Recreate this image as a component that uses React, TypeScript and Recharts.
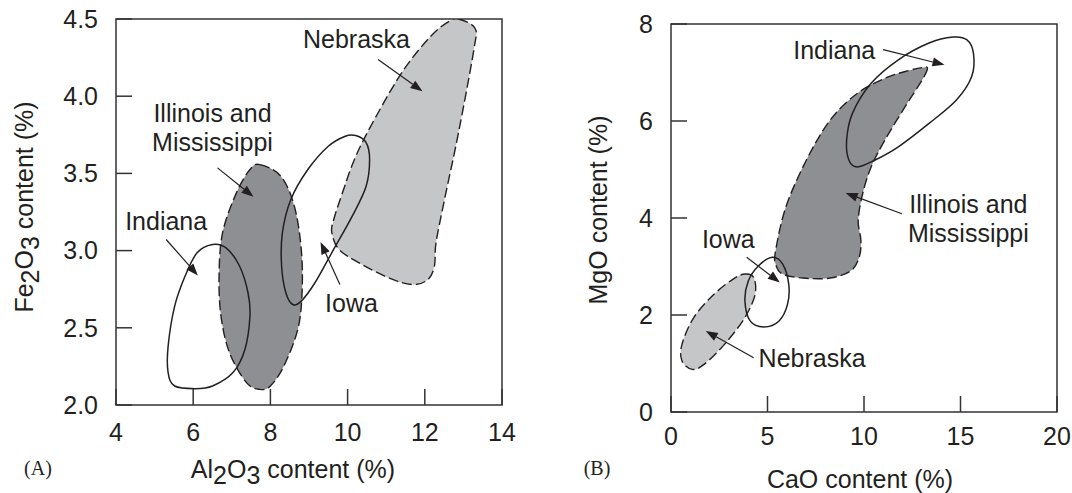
import React from "react";
import { ScatterChart, Scatter, XAxis, YAxis, ReferenceArea } from "recharts";

type Pt = { x: number; y: number };
type Lbl = { x: number; y: number; text: string };

const INK = "#231f20";
const DARK_FILL = "#8e8f92";
const LIGHT_FILL = "#c5c6c8";
const FONT = "'Liberation Sans', Arial, Helvetica, sans-serif";

// ---- (A) Al2O3 vs Fe2O3 ----
const aXTicks = [4, 6, 8, 10, 12, 14];
const aYTicks = [2.0, 2.5, 3.0, 3.5, 4.0, 4.5];

const aNebraska: Pt[] = [
  { x: 12.87, y: 4.5 }, { x: 13.3, y: 4.44 }, { x: 13.27, y: 4.3 }, { x: 12.87, y: 3.76 },
  { x: 12.51, y: 3.33 }, { x: 12.29, y: 3.05 }, { x: 12.25, y: 2.9 }, { x: 12.07, y: 2.81 },
  { x: 11.67, y: 2.78 }, { x: 11.1, y: 2.82 }, { x: 10.3, y: 2.92 }, { x: 9.77, y: 3.01 },
  { x: 9.59, y: 3.12 }, { x: 9.64, y: 3.2 }, { x: 9.86, y: 3.37 }, { x: 10.21, y: 3.61 },
  { x: 10.74, y: 3.87 }, { x: 11.45, y: 4.17 }, { x: 12.16, y: 4.39 }, { x: 12.6, y: 4.48 },
];
const aIllinois: Pt[] = [
  { x: 7.73, y: 3.557 }, { x: 8.27, y: 3.482 }, { x: 8.62, y: 3.288 }, { x: 8.8, y: 3.007 },
  { x: 8.82, y: 2.727 }, { x: 8.71, y: 2.49 }, { x: 8.35, y: 2.253 }, { x: 8.0, y: 2.123 },
  { x: 7.73, y: 2.101 }, { x: 7.38, y: 2.145 }, { x: 6.94, y: 2.339 }, { x: 6.72, y: 2.576 },
  { x: 6.67, y: 2.835 }, { x: 6.76, y: 3.115 }, { x: 7.12, y: 3.374 }, { x: 7.47, y: 3.525 },
];
const aIndiana: Pt[] = [
  { x: 6.5, y: 3.04 }, { x: 6.85, y: 3.018 }, { x: 7.2, y: 2.9 }, { x: 7.42, y: 2.727 },
  { x: 7.47, y: 2.576 }, { x: 7.34, y: 2.36 }, { x: 7.03, y: 2.21 }, { x: 6.5, y: 2.123 },
  { x: 6.05, y: 2.106 }, { x: 5.52, y: 2.123 }, { x: 5.35, y: 2.21 }, { x: 5.35, y: 2.38 },
  { x: 5.52, y: 2.64 }, { x: 5.79, y: 2.835 }, { x: 6.1, y: 2.986 },
];
const aIowa: Pt[] = [
  { x: 10.21, y: 3.745 }, { x: 10.48, y: 3.7 }, { x: 10.57, y: 3.59 }, { x: 10.48, y: 3.417 },
  { x: 10.12, y: 3.223 }, { x: 9.59, y: 2.986 }, { x: 9.15, y: 2.79 }, { x: 8.8, y: 2.673 },
  { x: 8.58, y: 2.651 }, { x: 8.4, y: 2.727 }, { x: 8.29, y: 2.9 }, { x: 8.31, y: 3.115 },
  { x: 8.53, y: 3.331 }, { x: 8.97, y: 3.525 }, { x: 9.5, y: 3.676 }, { x: 9.94, y: 3.741 },
];
const aArrows: Pt[][] = [
  [{ x: 10.79, y: 4.237 }, { x: 11.94, y: 4.032 }],
  [{ x: 6.63, y: 3.536 }, { x: 7.56, y: 3.348 }],
  [{ x: 5.3, y: 3.072 }, { x: 6.12, y: 2.839 }],
  [{ x: 9.8, y: 2.781 }, { x: 9.3, y: 3.055 }],
];
const aLabels: Lbl[] = [
  { x: 10.23, y: 4.37, text: "Nebraska" },
  { x: 6.5, y: 3.8, text: "Illinois and\nMississippi" },
  { x: 5.3, y: 3.19, text: "Indiana" },
  { x: 10.1, y: 2.66, text: "Iowa" },
];

// ---- (B) CaO vs MgO ----
const bXTicks = [0, 5, 10, 15, 20];
const bYTicks = [0, 2, 4, 6, 8];

const bIllinois: Pt[] = [
  { x: 13.29, y: 7.089 }, { x: 13.02, y: 6.85 }, { x: 12.14, y: 6.3 }, { x: 11.08, y: 5.605 },
  { x: 10.37, y: 5.053 }, { x: 9.93, y: 4.5 }, { x: 9.7, y: 3.95 }, { x: 9.84, y: 3.535 },
  { x: 9.75, y: 3.19 }, { x: 9.31, y: 2.91 }, { x: 8.25, y: 2.762 }, { x: 6.84, y: 2.762 },
  { x: 5.78, y: 2.845 }, { x: 5.42, y: 3.052 }, { x: 5.42, y: 3.328 }, { x: 5.95, y: 4.225 },
  { x: 7.01, y: 5.19 }, { x: 8.25, y: 6.02 }, { x: 9.66, y: 6.571 }, { x: 11.08, y: 6.88 },
  { x: 12.31, y: 7.04 }, { x: 13.02, y: 7.1 },
];
const bNebraska: Pt[] = [
  { x: 3.83, y: 2.845 }, { x: 4.28, y: 2.776 }, { x: 4.36, y: 2.431 }, { x: 3.83, y: 1.948 },
  { x: 2.77, y: 1.395 }, { x: 1.71, y: 0.981 }, { x: 1.1, y: 0.878 }, { x: 0.57, y: 1.05 },
  { x: 0.57, y: 1.395 }, { x: 1.18, y: 1.948 }, { x: 2.24, y: 2.431 }, { x: 3.22, y: 2.741 },
];
const bIndiana: Pt[] = [
  { x: 15.32, y: 7.676 }, { x: 15.67, y: 7.4 }, { x: 15.58, y: 6.917 }, { x: 14.79, y: 6.433 },
  { x: 13.37, y: 5.95 }, { x: 11.78, y: 5.467 }, { x: 10.55, y: 5.19 }, { x: 9.66, y: 5.053 },
  { x: 9.22, y: 5.19 }, { x: 9.1, y: 5.605 }, { x: 9.4, y: 6.157 }, { x: 10.37, y: 6.778 },
  { x: 11.78, y: 7.262 }, { x: 13.37, y: 7.607 }, { x: 14.61, y: 7.73 },
];
const bIowa: Pt[] = [
  { x: 5.25, y: 3.19 }, { x: 5.78, y: 3.052 }, { x: 6.1, y: 2.638 }, { x: 6.04, y: 2.224 },
  { x: 5.6, y: 1.878 }, { x: 4.81, y: 1.754 }, { x: 4.1, y: 1.878 }, { x: 3.83, y: 2.293 },
  { x: 4.01, y: 2.707 }, { x: 4.54, y: 3.017 },
];
const bArrows: Pt[][] = [
  [{ x: 10.99, y: 7.47 }, { x: 14.17, y: 7.158 }],
  [{ x: 11.96, y: 4.087 }, { x: 9.05, y: 4.515 }],
  [{ x: 3.92, y: 3.19 }, { x: 5.64, y: 2.672 }],
  [{ x: 4.28, y: 1.12 }, { x: 1.8, y: 1.67 }],
];
const bLabels: Lbl[] = [
  { x: 8.46, y: 7.47, text: "Indiana" },
  { x: 15.41, y: 3.98, text: "Illinois and\nMississippi" },
  { x: 2.97, y: 3.57, text: "Iowa" },
  { x: 7.31, y: 1.12, text: "Nebraska" },
];

// closed Catmull-Rom path through the outline points
function closedPath(pts: { x: number; y: number }[]) {
  const n = pts.length;
  if (n < 3) return "";
  let d = `M${pts[0].x},${pts[0].y}`;
  for (let i = 0; i < n; i++) {
    const p0 = pts[(i - 1 + n) % n];
    const p1 = pts[i];
    const p2 = pts[(i + 1) % n];
    const p3 = pts[(i + 2) % n];
    const c1x = p1.x + (p2.x - p0.x) / 6;
    const c1y = p1.y + (p2.y - p0.y) / 6;
    const c2x = p2.x - (p3.x - p1.x) / 6;
    const c2y = p2.y - (p3.y - p1.y) / 6;
    d += ` C${c1x},${c1y} ${c2x},${c2y} ${p2.x},${p2.y}`;
  }
  return d + " Z";
}

const outline = (fill: string, dashed: boolean) => (p: any) => (
  <path
    d={closedPath(p.points || [])}
    fill={fill}
    stroke={INK}
    strokeWidth={dashed ? 1.4 : 1.5}
    strokeDasharray={dashed ? "10 4" : undefined}
    strokeLinejoin="round"
  />
);

const arrow = (p: any) => {
  const pts = p.points || [];
  if (pts.length < 2) return <g />;
  const a = pts[0];
  const b = pts[1];
  const dx = b.x - a.x;
  const dy = b.y - a.y;
  const len = Math.sqrt(dx * dx + dy * dy) || 1;
  const ux = dx / len;
  const uy = dy / len;
  const hl = 12;
  const hw = 4.5;
  const bx = b.x - ux * hl;
  const by = b.y - uy * hl;
  return (
    <g>
      <line x1={a.x} y1={a.y} x2={bx} y2={by} stroke={INK} strokeWidth={1.2} />
      <polygon
        points={`${b.x},${b.y} ${bx - uy * hw},${by + ux * hw} ${bx + uy * hw},${by - ux * hw}`}
        fill={INK}
      />
    </g>
  );
};

const labelShape = (p: any) => {
  const lines: string[] = String(p.payload?.text || "").split("\n");
  const lh = 29;
  const top = p.cy - ((lines.length - 1) * lh) / 2;
  return (
    <g>
      {lines.map((t, i) => (
        <text
          key={i}
          x={p.cx}
          y={top + i * lh}
          dy="0.36em"
          textAnchor="middle"
          fontFamily={FONT}
          fontSize={25}
          fill={INK}
        >
          {t}
        </text>
      ))}
    </g>
  );
};

const noDot = () => <g />;
const tickStyle = { fill: INK, fontSize: 25, fontFamily: FONT };
const tickLineStyle = { stroke: "#333", strokeWidth: 1.5 };

export default function App() {
  return (
    <div style={{ position: "absolute", left: 0, top: 0, width: 1072, height: 493, background: "#fff" }}>
      <div style={{ position: "absolute", left: 0, top: 0 }}>
        <ScatterChart width={536} height={493} margin={{ top: 19, right: 34, bottom: 58, left: 56 }}>
          <XAxis
            type="number"
            dataKey="x"
            domain={[4, 14]}
            ticks={aXTicks}
            allowDataOverflow
            axisLine={false}
            tickSize={-16}
            tickMargin={34}
            tickLine={tickLineStyle}
            tick={tickStyle}
            height={30}
          />
          <YAxis
            type="number"
            dataKey="y"
            domain={[2, 4.5]}
            ticks={aYTicks}
            allowDataOverflow
            axisLine={false}
            tickSize={-16}
            tickMargin={34}
            tickLine={tickLineStyle}
            tick={tickStyle}
            tickFormatter={(v: number) => v.toFixed(1)}
            width={60}
          />
          <Scatter data={aNebraska} shape={noDot} line={outline(LIGHT_FILL, true)} isAnimationActive={false} />
          <Scatter data={aIllinois} shape={noDot} line={outline(DARK_FILL, true)} isAnimationActive={false} />
          <Scatter data={aIndiana} shape={noDot} line={outline("none", false)} isAnimationActive={false} />
          <Scatter data={aIowa} shape={noDot} line={outline("none", false)} isAnimationActive={false} />
          {aArrows.map((seg, i) => (
            <Scatter key={`aa${i}`} data={seg} shape={noDot} line={arrow} isAnimationActive={false} />
          ))}
          <Scatter data={aLabels} shape={labelShape} isAnimationActive={false} />
          <ReferenceArea x1={4} x2={14} y1={2} y2={4.5} fill="none" stroke="#333" strokeWidth={1.5} />
        </ScatterChart>
      </div>
      <div style={{ position: "absolute", left: 536, top: 0 }}>
        <ScatterChart width={536} height={493} margin={{ top: 24, right: 15, bottom: 51, left: 75 }}>
          <XAxis
            type="number"
            dataKey="x"
            domain={[0, 20]}
            ticks={bXTicks}
            allowDataOverflow
            axisLine={false}
            tickSize={-16}
            tickMargin={31}
            tickLine={tickLineStyle}
            tick={tickStyle}
            height={30}
          />
          <YAxis
            type="number"
            dataKey="y"
            domain={[0, 8]}
            ticks={bYTicks}
            allowDataOverflow
            axisLine={false}
            tickSize={-16}
            tickMargin={34}
            tickLine={tickLineStyle}
            tick={tickStyle}
            width={60}
          />
          <Scatter data={bIllinois} shape={noDot} line={outline(DARK_FILL, true)} isAnimationActive={false} />
          <Scatter data={bNebraska} shape={noDot} line={outline(LIGHT_FILL, true)} isAnimationActive={false} />
          <Scatter data={bIndiana} shape={noDot} line={outline("none", false)} isAnimationActive={false} />
          <Scatter data={bIowa} shape={noDot} line={outline("none", false)} isAnimationActive={false} />
          {bArrows.map((seg, i) => (
            <Scatter key={`ba${i}`} data={seg} shape={noDot} line={arrow} isAnimationActive={false} />
          ))}
          <Scatter data={bLabels} shape={labelShape} isAnimationActive={false} />
          <ReferenceArea x1={0} x2={20} y1={0} y2={8} fill="none" stroke="#333" strokeWidth={1.5} />
        </ScatterChart>
      </div>
      <svg
        width={1072}
        height={493}
        style={{ position: "absolute", left: 0, top: 0, pointerEvents: "none" }}
      >
        <g fontFamily={FONT} fontSize={25} fill={INK}>
          <text x={293} y={478} textAnchor="middle">
            Al<tspan dy={6}>2</tspan>
            <tspan dy={-6}>O</tspan>
            <tspan dy={6}>3</tspan>
            <tspan dy={-6}> content (%)</tspan>
          </text>
          <text transform="translate(33,207) rotate(-90)" textAnchor="middle">
            Fe<tspan dy={6}>2</tspan>
            <tspan dy={-6}>O</tspan>
            <tspan dy={6}>3</tspan>
            <tspan dy={-6}> content (%)</tspan>
          </text>
          <text x={860} y={488} textAnchor="middle">
            CaO content (%)
          </text>
          <text transform="translate(607,210) rotate(-90)" textAnchor="middle">
            MgO content (%)
          </text>
        </g>
        <g fontFamily="'Liberation Serif', 'Times New Roman', serif" fontSize={20} fill={INK}>
          <text x={38} y={475} textAnchor="middle">(A)</text>
          <text x={597} y={475} textAnchor="middle">(B)</text>
        </g>
      </svg>
    </div>
  );
}
